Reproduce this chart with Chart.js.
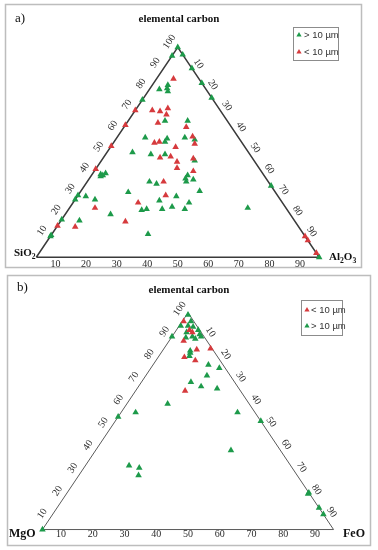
<!DOCTYPE html>
<html>
<head>
<meta charset="utf-8">
<script src="https://cdn.jsdelivr.net/npm/chart.js@4.4.1/dist/chart.umd.min.js"></script>
<style>
    html, body { margin: 0; padding: 0; background: #fff; }
    #wrap { position: relative; width: 378px; height: 550px; overflow: hidden; }
    #wrap canvas { position: absolute; left: 0; top: 0; }
</style>
</head>
<body>
<div id="wrap">
    <canvas id="chartA" width="378" height="550"></canvas>
    <canvas id="chartB" width="378" height="550"></canvas>
</div>
<script>
// a) elemental carbon / SiO2 / Al2O3  (values in %, SiO2 = 100 - the other two)
const coarseCarbonA = [100, 96, 96.5, 90, 83, 76, 80, 82, 80.5, 79, 75, 65, 65, 57, 56.5, 57, 56, 55, 50, 49, 49, 46, 39.5, 39, 40, 38.5, 36, 35, 39, 37.5, 36, 37, 31, 31.5, 29.5, 29, 27.5, 27.5, 27, 29, 26, 22.5, 23, 23, 24, 23, 23.5, 20.5, 18, 17.5, 11, 10.5, 10, 34, 0];
const coarseAl2O3A = [0, 0, 3.5, 10, 17, 24, 3.5, 5.5, 6, 7, 0, 13, 21, 10, 18, 24, 28, 18, 9, 16, 21, 33, 3, 4, 4.5, 3.5, 22, 25, 34, 34, 35, 37, 17, 42, 0, 3, 0, 7, 30, 35, 41, 26, 27.5, 33, 36, 41, 63, 16, 0, 6.5, 34, 0, 0, 66, 100];
const fineCarbonA = [85, 70, 70, 69.5, 71, 68, 64, 63, 62, 57.5, 54.5, 55, 48, 52.5, 54, 53, 47.5, 45.5, 42.5, 47, 41, 42, 36, 29.5, 26, 23.5, 17, 15, 14.5, 10, 8, 2];
const fineAl2O3A = [6, 0, 6, 9, 11, 12, 11, 0, 22, 26.5, 14.5, 16, 23.5, 23, 29, 0, 20, 27, 28.5, 32, 35, 0, 27, 31, 23, 9, 23, 0, 6.5, 90, 92, 98];

// b) elemental carbon / MgO / FeO
const fineCarbonB = [96, 92, 91, 87, 83.5, 83, 79.5, 78, 64];
const fineFeOB = [0.5, 4.5, 6, 5, 16, 11.5, 9, 13.5, 17];
const coarseCarbonB = [99, 96, 94, 94, 93.5, 91, 92, 90, 88.5, 89, 88, 89, 89, 82.5, 81.5, 80, 76, 74.5, 71, 68, 66, 65, 58, 54, 50, 52, 54, 36.5, 29.5, 28.5, 25, 17, 16.5, 10, 7, 0];
const coarseFeOB = [0.5, 3, 0.5, 3, 5, 4, 7.5, 9, 5, 7, 8.5, 10, 0, 9.5, 10, 10.5, 19, 23.5, 21, 17, 21.5, 27.5, 14, 40, 50, 0, 5, 46.5, 15, 19, 20.5, 83, 83, 90, 93, 0];

const leftTicks = [10, 20, 30, 40, 50, 60, 70, 80, 90, 100];
const rightTicks = [10, 20, 30, 40, 50, 60, 70, 80, 90];
const bottomTicks = [10, 20, 30, 40, 50, 60, 70, 80, 90];

const coarseLabel = '> 10 µm';
const fineLabel = '< 10 µm';
const topTitle = 'elemental carbon';

const W = 378, H = 550;
const greenColor = '#1d9a4a';
const redColor = '#d63a3d';

// pixel layout of each panel
const layoutA = {
    border: [5.5, 4.5, 356, 263],
    left: [33, 257], right: [322, 257], apexY: 44,
    frameColor: '#3a3a3a', frameWidth: 1.5,
    leftLabels: { spread: 1, shift: 0, offset: 10 },
    rightLabels: { spread: 1, shift: 0, offset: 8 },
    bottomLabels: { spread: 1.08, offset: 7 },
    tag: ['a)', 15, 22], titlePos: [179, 22],
    vertices: [['SiO2', 14, 256, 11], ['Al2O3', 329, 260, 11]],
    legend: { box: [293.5, 27.5, 45, 33], markerX: 299, textX: 304,
              rows: [[coarseLabel, greenColor, 35], [fineLabel, redColor, 52]] }
};
const layoutB = {
    border: [7.5, 275.5, 363, 270],
    left: [39.3, 533.3], right: [336.7, 533.3], apexY: 313.3,
    frameColor: '#5a5a5a', frameWidth: 1,
    leftLabels: { spread: 1.05, shift: -3, offset: 9 },
    rightLabels: { spread: 1.04, shift: 2.5, offset: 8 },
    bottomLabels: { spread: 1.09, offset: 5 },
    tag: ['b)', 17, 291], titlePos: [189, 293],
    vertices: [['MgO', 9, 537, 12], ['FeO', 343, 537, 12]],
    legend: { box: [301.5, 300.5, 41, 35], markerX: 307, textX: 311,
              rows: [[fineLabel, redColor, 310], [coarseLabel, greenColor, 326]] }
};

function ternaryPoints(carbon, other) {
    return carbon.map(function (c, i) {
        return { x: other[i] + c / 2, y: c };
    });
}

function drawFormula(ctx, text, x, y, size) {
    var parts = text.match(/[A-Za-z]+|\d+/g);
    parts.forEach(function (part) {
        var sub = /^\d+$/.test(part);
        ctx.font = 'bold ' + (sub ? size * 0.7 : size) + 'px "Liberation Serif"';
        ctx.fillText(part, x, sub ? y + size * 0.25 : y);
        x += ctx.measureText(part).width;
    });
}

function drawMarker(ctx, x, y, r, color) {
    ctx.beginPath();
    ctx.moveTo(x, y - r);
    ctx.lineTo(x + r * 0.866, y + r / 2);
    ctx.lineTo(x - r * 0.866, y + r / 2);
    ctx.closePath();
    ctx.fillStyle = color;
    ctx.fill();
}

function decorPlugin(layout) {
    return {
        id: 'ternaryDecor',
        afterDraw: function (chart) {
            var ctx = chart.ctx, sx = chart.scales.x, sy = chart.scales.y;
            function at(top, right) {
                return [sx.getPixelForValue(right + top / 2), sy.getPixelForValue(top)];
            }
            var L = at(0, 0), R = at(0, 100), A = at(100, 0);
            var cx = (L[0] + R[0] + A[0]) / 3, cy = (L[1] + R[1] + A[1]) / 3;

            function sideLabels(values, p0, p1, pos, cfg) {
                var dx = p1[0] - p0[0], dy = p1[1] - p0[1], len = Math.hypot(dx, dy);
                var nx = dy / len, ny = -dx / len;
                if (((p0[0] + p1[0]) / 2 - cx) * nx + ((p0[1] + p1[1]) / 2 - cy) * ny < 0) {
                    nx = -nx; ny = -ny;
                }
                var angle = Math.atan2(dy, dx);
                values.forEach(function (v) {
                    var p = pos(50 + (v - 50) * cfg.spread + cfg.shift);
                    ctx.save();
                    ctx.translate(p[0] + nx * cfg.offset, p[1] + ny * cfg.offset);
                    ctx.rotate(angle);
                    ctx.fillText(String(v), 0, 0);
                    ctx.restore();
                });
            }

            ctx.save();
            var b = layout.border;
            ctx.strokeStyle = '#bdbdbd';
            ctx.lineWidth = 1.5;
            ctx.strokeRect(b[0], b[1], b[2], b[3]);

            // tick labels
            ctx.fillStyle = '#2b2b2b';
            ctx.font = '10px "Liberation Serif"';
            ctx.textAlign = 'center';
            ctx.textBaseline = 'middle';
            sideLabels(leftTicks, L, A, function (t) { return at(t, 0); }, layout.leftLabels);
            sideLabels(rightTicks, A, R, function (t) { return at(100 - t, t); }, layout.rightLabels);
            bottomTicks.forEach(function (v) {
                var p = at(0, 50 + (v - 50) * layout.bottomLabels.spread);
                ctx.fillText(String(v), p[0], p[1] + layout.bottomLabels.offset);
            });

            // titles
            ctx.textBaseline = 'alphabetic';
            ctx.fillStyle = '#111';
            ctx.font = 'bold 11px "Liberation Serif"';
            ctx.fillText(topTitle, layout.titlePos[0], layout.titlePos[1]);
            ctx.textAlign = 'left';
            ctx.font = '13px "Liberation Serif"';
            ctx.fillText(layout.tag[0], layout.tag[1], layout.tag[2]);
            layout.vertices.forEach(function (v) {
                drawFormula(ctx, v[0], v[1], v[2], v[3]);
            });

            // legend
            var lg = layout.legend;
            ctx.strokeStyle = '#8c8c8c';
            ctx.lineWidth = 1;
            ctx.strokeRect(lg.box[0], lg.box[1], lg.box[2], lg.box[3]);
            ctx.textBaseline = 'middle';
            ctx.font = '9.5px "Liberation Sans"';
            lg.rows.forEach(function (row) {
                drawMarker(ctx, lg.markerX, row[2], 3, row[1]);
                ctx.fillStyle = '#333';
                ctx.fillText(row[0], lg.textX, row[2] + 0.5);
            });
            ctx.restore();
        }
    };
}

function buildChart(canvasId, layout, coarse, fine) {
    var ux = (layout.right[0] - layout.left[0]) / 100;
    var uy = (layout.left[1] - layout.apexY) / 100;
    var frame = ternaryPoints([0, 0, 100, 0], [0, 100, 0, 0]);
    return new Chart(document.getElementById(canvasId), {
        type: 'scatter',
        data: {
            datasets: [{
                label: fineLabel,
                data: ternaryPoints(fine[0], fine[1]),
                pointStyle: 'triangle',
                pointRadius: 3.8,
                backgroundColor: redColor,
                borderWidth: 0
            }, {
                label: coarseLabel,
                data: ternaryPoints(coarse[0], coarse[1]),
                pointStyle: 'triangle',
                pointRadius: 3.8,
                backgroundColor: greenColor,
                borderWidth: 0
            }, {
                label: 'frame',
                data: frame,
                showLine: true,
                pointRadius: 0,
                borderColor: layout.frameColor,
                borderWidth: layout.frameWidth,
                fill: false
            }]
        },
        options: {
            responsive: false,
            animation: false,
            events: [],
            layout: { padding: 0 },
            scales: {
                x: { type: 'linear', display: false, bounds: 'data',
                     min: -layout.left[0] / ux, max: (W - layout.left[0]) / ux },
                y: { type: 'linear', display: false, bounds: 'data',
                     min: -(H - layout.left[1]) / uy, max: layout.left[1] / uy }
            },
            plugins: {
                legend: { display: false },
                tooltip: { enabled: false }
            }
        },
        plugins: [decorPlugin(layout)]
    });
}

buildChart('chartA', layoutA, [coarseCarbonA, coarseAl2O3A], [fineCarbonA, fineAl2O3A]);
buildChart('chartB', layoutB, [coarseCarbonB, coarseFeOB], [fineCarbonB, fineFeOB]);
</script>
</body>
</html>
